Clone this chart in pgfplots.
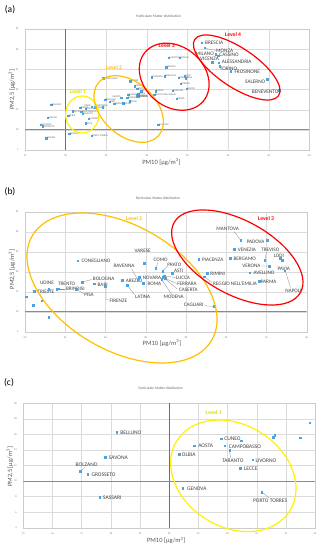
\documentclass[border=0pt]{standalone}
\usepackage{pgfplots}
\pgfplotsset{compat=1.18}
\usepackage{pgfplotstable}
\usepackage{fontspec}
\setmainfont{Carlito}
\newcommand\fs[1]{\fontsize{#1}{#1}\selectfont}
\definecolor{mk}{HTML}{4FA3DC}
\definecolor{bl}{HTML}{4472C4}
\definecolor{gr}{HTML}{4CB848}
\definecolor{yel}{HTML}{FFF200}
\definecolor{ora}{HTML}{FFC000}
\definecolor{rd}{HTML}{FF0000}
\definecolor{lab}{HTML}{404040}
\definecolor{axl}{HTML}{595959}

\pgfplotstableread[col sep=comma]{
x,y,lab
18.2,16.3,BELLUNO
17.81,13.04,SAVONA
16.95,11.28,BOLZANO
17.2,10.9,GROSSETO
17.62,7.94,SASSARI
20.46,9.1,GENOVA
20.34,13.47,OLBIA
20.86,14.58,AOSTA
21.78,15.44,CUNEO
21.91,14.54,CAMPOBASSO
22.07,13.94,TARANTO
22.47,15.18,TRIESTE
22.86,12.74,LIVORNO
22.44,11.63,LECCE
23.18,8.59,PORTO TORRES
24.85,17.42,BOLOGNA
25.43,17.0,BARI
25.98,16.42,FIRENZE
24.63,22.75,CONEGLIANO
27.6,18.0,RAVENNA
27.09,16.58,LATINA
27.93,22.08,VARESE
28.49,20.83,COMO
28.83,20.17,PRATO
29.32,19.58,ASTI
27.68,18.67,NOVARA
27.88,17.08,ROMA
28.91,18.92,LUCCA
28.83,18.58,FERRARA
28.96,18.33,CASERTA
28.79,18.17,MODENA
31.41,11.33,CAGLIARI
30.63,23.08,PIACENZA
31.06,19.58,RIMINI
30.9,18.75,REGGIO NELL'EMILIA
32.72,27.92,MANTOVA
34.04,27.92,PADOVA
32.4,25.58,VENEZIA
32.19,23.33,BERGAMO
33.91,22.92,TREVISO
34.69,23.33,LODI
34.14,21.42,VERONA
34.79,22.83,PAVIA
33.18,19.75,AVELLINO
33.65,17.67,PARMA
34.92,20.25,NAPOLI
}\tabA

\pgfplotstableread[col sep=comma]{
x,y
36.75,31.6
37.12,30.36
38.45,28.8
38.76,28.43
38.06,26.82
38.82,26.69
39.0,25.83
40.32,24.5
44.83,22.52
46.31,19.88
}\tabAfour

\pgfplotstableread[col sep=comma]{
x,y
22.05,13.75
22.41,11.58
22.46,15.17
22.83,12.75
23.19,8.58
23.19,15.67
23.57,15.58
23.66,15.75
24.55,15.58
24.85,17.42
25.43,17.0
25.98,16.42
24.63,22.75
27.6,18.0
26.84,17.92
27.09,16.58
27.93,22.08
28.49,20.83
28.83,20.17
29.32,19.58
27.68,18.67
27.88,17.08
28.91,18.92
28.83,18.58
28.96,18.33
28.79,18.17
31.41,11.33
30.63,23.08
31.06,19.58
30.9,18.75
32.72,27.92
34.04,27.92
32.4,25.58
32.19,23.33
33.91,22.92
34.69,23.33
34.14,21.42
34.79,22.83
33.18,19.75
33.65,17.67
34.92,20.25
}\tabB

\pgfplotstableread[col sep=comma]{
x,y
18.2,16.3
17.81,13.04
16.95,11.28
17.2,10.9
17.62,7.94
20.46,9.1
20.34,13.47
20.86,14.58
21.78,15.44
21.91,14.54
22.07,13.94
22.47,15.18
22.86,12.74
22.44,11.63
23.18,8.59
23.57,15.65
23.62,15.87
24.49,15.6
24.82,17.47
}\tabC

\pgfplotsset{myax/.style={scale only axis, grid=major,
  major grid style={draw=black!14, line width=0.3pt},
  axis line style={draw=black!20, line width=0.3pt},
  major tick length=0pt, tick style={draw=none},
  ticklabel style={font=\fs{2.6}, text=black!55},
  yticklabel style={xshift=-3pt}, xticklabel style={yshift=-1.5pt},
  /pgf/number format/assume math mode=true,
  title style={font=\fs{3.6}, text=black!60, anchor=center},
  xlabel style={font=\fs{6.5}, text=axl, anchor=center},
  ylabel style={font=\fs{6.5}, text=axl, anchor=center},
  xlabel={PM10 [μg/m\textsuperscript{3}]},
  ylabel={PM2,5 [μg/m\textsuperscript{3}]},
  title={Particulate Matter distribution}},
  pts/.style={only marks, mark=square*, mark size=0.72pt, color=mk, mark options={draw=none, fill=mk}},
  tinylab/.style={nodes near coords, point meta=explicit symbolic,
    every node near coord/.style={anchor=#1, font=\fs{2.5}, text=black!60, inner sep=0.5pt}}
}
\tikzset{
  lb/.style={font=\fs{5.2}, text=lab, inner sep=0pt},
  lc/.style={font=\fs{5.5}, text=lab, inner sep=0pt},
  ld/.style={font=\fs{5.3}, text=lab, inner sep=0pt, anchor=west},
  ll/.style={draw=black!45, line width=0.3pt},
  lev/.style={font=\fs{5.6}\bfseries, inner sep=0pt}
}

\begin{document}
\begin{tikzpicture}[x=1pt,y=1pt]
\path[use as bounding box, fill=white] (0,0) rectangle (323,550);

% ---------------- (a)
\begin{axis}[myax, at={(25pt,400pt)}, anchor=south west, width=284.3pt, height=121pt,
  xmin=15, xmax=50, ymin=5, ymax=35, xtick={15,20,...,50}, ytick={5,10,...,35},
  title style={at={(axis description cs:0.47,1.058)}},
  xlabel style={at={(axis description cs:0.48,-0.099)}},
  ylabel style={at={(axis description cs:-0.046,0.5)}}]
\addplot[bl, line width=1.1pt] coordinates {(20,5) (20,35)};
\addplot[gr, line width=1.1pt] coordinates {(15,10) (50,10)};
\addplot[pts, tinylab=west] table[x=x, y=y, meta=lab] {\tabA};
\addplot[pts, tinylab=south east] coordinates {(23.19,15.67) [UDINE]};
\addplot[pts, tinylab=south west] coordinates {(23.57,15.58) [TRENTO]};
\addplot[pts, tinylab=north west] coordinates {(23.66,15.75) [BRINDISI]};
\addplot[pts, tinylab=south west] coordinates {(24.55,15.58) [PISA]};
\addplot[pts, tinylab=south east] coordinates {(26.84,17.92) [AREZZO]};
\addplot[pts] table[x=x, y=y] {\tabAfour};
\node[ld] at (axis cs:37.16,31.5) {BRESCIA};
\node[ld] at (axis cs:38.51,29.71) {MONZA};
\draw[ll] (axis cs:37.2,30.2) -- (axis cs:38.45,29.7);
\node[ld, anchor=east] at (axis cs:38.27,28.73) {MILANO};
\node[ld] at (axis cs:38.92,28.55) {CASSINO};
\node[ld] at (axis cs:36.54,27.49) {VICENZA};
\node[ld] at (axis cs:39.21,26.77) {ALESSANDRIA};
\node[ld] at (axis cs:38.98,25.12) {TORINO};
\node[ld] at (axis cs:40.77,24.4) {FROSINONE};
\node[ld] at (axis cs:42.08,21.9) {SALERNO};
\node[ld] at (axis cs:42.91,19.4) {BENEVENTO};
\end{axis}
\draw[yel, line width=1.2pt] (82.3,435.5) ellipse [x radius=16.7pt, y radius=18.5pt];
\draw[ora, line width=1.2pt, rotate around={-42:(128.7,441)}] (128.7,441) ellipse [x radius=40.1pt, y radius=26.6pt];
\draw[rd, line width=1.2pt, rotate around={-40:(174.2,473.3)}] (174.2,473.3) ellipse [x radius=38pt, y radius=30pt];
\draw[rd, line width=1.2pt, rotate around={-33.9:(236.7,482.5)}] (236.7,482.5) ellipse [x radius=50.5pt, y radius=19.6pt];
\node[lev, text=yel!90!black] at (78,458.3) {Level 1};
\node[lev, text=ora] at (114,482.3) {Level 2};
\node[lev, text=rd] at (166.7,504) {Level 3};
\node[lev, text=rd] at (233,515.7) {Level 4};
\node[font=\fs{9.5}, inner sep=0pt] at (10,540) {(a)};

% ---------------- (b)
\begin{axis}[myax, at={(25pt,218.3pt)}, anchor=south west, width=281.7pt, height=120pt,
  xmin=22, xmax=36, ymin=5, ymax=35, xtick={22,24,...,36}, ytick={5,10,...,35},
  title style={at={(axis description cs:0.472,1.058)}},
  xlabel style={at={(axis description cs:0.486,-0.094)}},
  ylabel style={at={(axis description cs:-0.046,0.52)}}]
\addplot[gr, line width=1.1pt] coordinates {(22,10) (36,10)};
\addplot[pts] table[x=x, y=y] {\tabB};
\node[lb] at (axis cs:23.04,14.92) {TRIESTE};
\node[lb] at (axis cs:23.09,17.33) {UDINE};
\node[lb] at (axis cs:24.07,17.08) {TRENTO};
\node[lb] at (axis cs:24.5,15.75) {BRINDISI};
\draw[ll] (axis cs:23.7,15.75) -- (axis cs:24.0,15.75);
\node[lb] at (axis cs:25.18,14.25) {PISA};
\draw[ll] (axis cs:24.6,15.45) -- (axis cs:24.94,14.42);
\node[lb] at (axis cs:25.91,18.17) {BOLOGNA};
\draw[ll] (axis cs:24.9,17.5) -- (axis cs:25.32,18.05);
\node[lb] at (axis cs:25.86,16.83) {BARI};
\node[lb] at (axis cs:26.64,12.75) {FIRENZE};
\draw[ll] (axis cs:26.03,16.25) -- (axis cs:26.03,13.08) -- (axis cs:26.15,12.9);
\node[lb] at (axis cs:25.53,22.75) {CONEGLIANO};
\node[lb] at (axis cs:26.92,21.42) {RAVENNA};
\draw[ll] (axis cs:27.3,20.75) -- (axis cs:27.58,18.2);
\node[lb] at (axis cs:27.42,17.75) {AREZZO};
\node[lb] at (axis cs:27.85,13.83) {LATINA};
\draw[ll] (axis cs:27.12,16.4) -- (axis cs:27.43,14.33);
\node[lb] at (axis cs:27.85,25.17) {VARESE};
\node[lb] at (axis cs:28.74,22.92) {COMO};
\draw[ll] (axis cs:28.52,21.0) -- (axis cs:28.6,22.3);
\node[lb] at (axis cs:29.42,21.67) {PRATO};
\draw[ll] (axis cs:28.88,20.3) -- (axis cs:29.08,21.4);
\node[lb] at (axis cs:29.64,20.17) {ASTI};
\node[lb] at (axis cs:28.31,18.5) {NOVARA};
\node[lb] at (axis cs:28.43,17.0) {ROMA};
\node[lb] at (axis cs:29.85,18.5) {LUCCA};
\draw[ll] (axis cs:28.95,18.9) -- (axis cs:29.48,18.55);
\node[lb] at (axis cs:30.05,16.92) {FERRARA};
\draw[ll] (axis cs:28.88,18.5) -- (axis cs:29.55,17.05);
\node[lb] at (axis cs:30.12,15.58) {CASERTA};
\draw[ll] (axis cs:28.96,18.25) -- (axis cs:29.55,15.75);
\node[lb] at (axis cs:29.39,13.67) {MODENA};
\draw[ll] (axis cs:28.79,18.05) -- (axis cs:29.3,14.3);
\node[lb] at (axis cs:30.38,11.75) {CAGLIARI};
\draw[ll] (axis cs:30.92,11.5) -- (axis cs:31.35,11.33);
\node[lb] at (axis cs:31.33,22.92) {PIACENZA};
\node[lb] at (axis cs:31.58,19.5) {RIMINI};
\node[lb] at (axis cs:32.44,17.0) {REGGIO NELL'EMILIA};
\draw[ll] (axis cs:30.95,18.6) -- (axis cs:31.3,17.3);
\node[lb] at (axis cs:32.07,30.75) {MANTOVA};
\draw[ll] (axis cs:32.4,30.0) -- (axis cs:32.68,28.1);
\node[lb] at (axis cs:33.46,27.42) {PADOVA};
\node[lb] at (axis cs:33.03,25.5) {VENEZIA};
\node[lb] at (axis cs:32.92,23.17) {BERGAMO};
\node[lb] at (axis cs:34.19,25.5) {TREVISO};
\draw[ll] (axis cs:34.0,24.8) -- (axis cs:33.92,23.1);
\node[lb] at (axis cs:34.62,24.0) {LODI};
\node[lb] at (axis cs:33.25,21.5) {VERONA};
\draw[ll] (axis cs:33.72,21.45) -- (axis cs:34.08,21.42);
\node[lb] at (axis cs:34.86,20.83) {PAVIA};
\node[lb] at (axis cs:33.88,19.67) {AVELLINO};
\node[lb] at (axis cs:34.11,17.58) {PARMA};
\node[lb] at (axis cs:35.34,15.33) {NAPOLI};
\draw[ll] (axis cs:34.95,20.0) -- (axis cs:35.2,16.0);
\end{axis}
\draw[ora, line width=1.2pt, rotate around={-30.2:(122,262)}] (122,262) ellipse [x radius=103.8pt, y radius=62.3pt];
\draw[rd, line width=1.2pt, rotate around={-28.9:(237.3,292.5)}] (237.3,292.5) ellipse [x radius=72.2pt, y radius=36.9pt];
\node[lev, text=ora] at (134,331) {Level 2};
\node[lev, text=rd] at (266,331) {Level 3};
\node[font=\fs{9.5}, inner sep=0pt] at (10,358) {(b)};

% ---------------- (c)
\begin{axis}[myax, at={(23.3pt,22.3pt)}, anchor=south west, width=291.7pt, height=124.4pt,
  xmin=15, xmax=25, ymin=4, ymax=20, xtick={15,...,25}, ytick={4,6,...,20},
  title style={at={(axis description cs:0.471,1.069)}},
  xlabel style={at={(axis description cs:0.49,-0.105)}},
  ylabel style={at={(axis description cs:-0.046,0.49)}}]
\addplot[bl, line width=1.1pt] coordinates {(20,4) (20,20)};
\addplot[gr, line width=1.1pt] coordinates {(15,10) (25,10)};
\addplot[pts] table[x=x, y=y] {\tabC};
\node[lc] at (axis cs:18.69,16.25) {BELLUNO};
\node[lc] at (axis cs:18.26,12.96) {SAVONA};
\node[lc] at (axis cs:17.17,12.1) {BOLZANO};
\draw[ll] (axis cs:16.99,11.38) -- (axis cs:17.11,11.76);
\node[lc] at (axis cs:17.75,10.81) {GROSSETO};
\node[lc] at (axis cs:18.05,7.86) {SASSARI};
\node[lc] at (axis cs:20.95,9.01) {GENOVA};
\node[lc] at (axis cs:20.67,13.43) {OLBIA};
\node[lc] at (axis cs:21.25,14.54) {AOSTA};
\node[lc] at (axis cs:22.17,15.4) {CUNEO};
\node[lc] at (axis cs:22.6,14.45) {CAMPOBASSO};
\node[lc] at (axis cs:22.18,12.61) {TARANTO};
\draw[ll] (axis cs:22.07,13.81) -- (axis cs:22.11,12.95);
\node[lc] at (axis cs:23.32,12.66) {LIVORNO};
\node[lc] at (axis cs:22.8,11.54) {LECCE};
\node[lc] at (axis cs:23.46,7.43) {PORTO TORRES};
\draw[ll] (axis cs:23.21,8.5) -- (axis cs:23.43,7.8);
\end{axis}
\draw[yel, line width=1.2pt, rotate around={-31.5:(233.3,74.2)}] (233.3,74.2) ellipse [x radius=66.5pt, y radius=51.2pt];
\node[lev, text=yel!90!black] at (213.7,137.3) {Level 1};
\node[font=\fs{9.5}, inner sep=0pt] at (9,167) {(c)};
\end{tikzpicture}
\end{document}
